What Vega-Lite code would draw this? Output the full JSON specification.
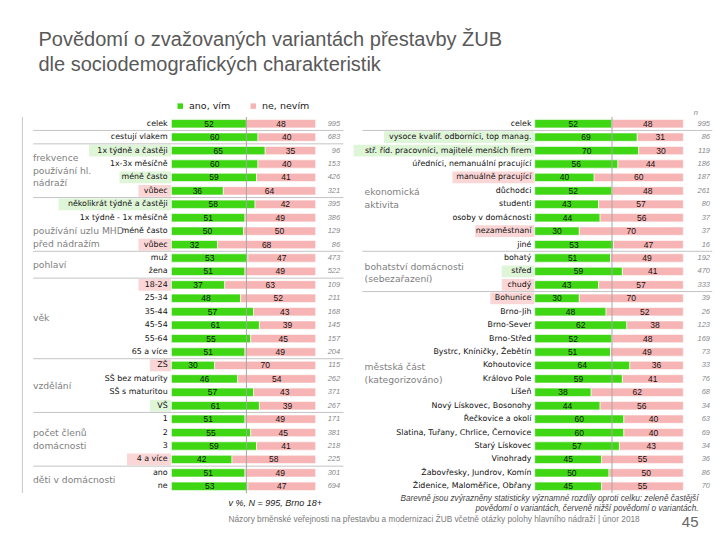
{
  "$schema": "https://vega.github.io/schema/vega-lite/v6.json",
  "padding": {"left": 21.5, "top": 29, "right": 5, "bottom": 5},
  "background": "white",
  "bounds": "flush",
  "spacing": 6,
  "title": {
    "text": ["Povědomí o zvažovaných variantách přestavby ŽUB", "dle sociodemografických charakteristik"],
    "anchor": "start", "frame": "group", "dx": 7, "offset": 26.5,
    "font": "Liberation Sans Narrow, Liberation Sans, Arial, sans-serif",
    "fontSize": 20, "fontWeight": "normal", "color": "#595959", "lineHeight": 25
  },
  "datasets": {
    "left": [
      {"key": "L00", "label": "celek", "ano": 52, "ne": 48, "n": 995, "sig": ""},
      {"key": "L01", "label": "cestují vlakem", "ano": 60, "ne": 40, "n": 683, "sig": ""},
      {"key": "L02", "label": "1x týdně a častěji", "ano": 65, "ne": 35, "n": 96, "sig": "+"},
      {"key": "L03", "label": "1x-3x měsíčně", "ano": 60, "ne": 40, "n": 153, "sig": ""},
      {"key": "L04", "label": "méně často", "ano": 59, "ne": 41, "n": 426, "sig": "+"},
      {"key": "L05", "label": "vůbec", "ano": 36, "ne": 64, "n": 321, "sig": "-"},
      {"key": "L06", "label": "několikrát týdně a častěji", "ano": 58, "ne": 42, "n": 395, "sig": "+"},
      {"key": "L07", "label": "1x týdně - 1x měsíčně", "ano": 51, "ne": 49, "n": 386, "sig": ""},
      {"key": "L08", "label": "méně často", "ano": 50, "ne": 50, "n": 129, "sig": ""},
      {"key": "L09", "label": "vůbec", "ano": 32, "ne": 68, "n": 86, "sig": "-"},
      {"key": "L10", "label": "muž", "ano": 53, "ne": 47, "n": 473, "sig": ""},
      {"key": "L11", "label": "žena", "ano": 51, "ne": 49, "n": 522, "sig": ""},
      {"key": "L12", "label": "18-24", "ano": 37, "ne": 63, "n": 109, "sig": "-"},
      {"key": "L13", "label": "25-34", "ano": 48, "ne": 52, "n": 211, "sig": ""},
      {"key": "L14", "label": "35-44", "ano": 57, "ne": 43, "n": 168, "sig": ""},
      {"key": "L15", "label": "45-54", "ano": 61, "ne": 39, "n": 145, "sig": ""},
      {"key": "L16", "label": "55-64", "ano": 55, "ne": 45, "n": 157, "sig": ""},
      {"key": "L17", "label": "65 a více", "ano": 51, "ne": 49, "n": 204, "sig": ""},
      {"key": "L18", "label": "ZŠ", "ano": 30, "ne": 70, "n": 115, "sig": "-"},
      {"key": "L19", "label": "SŠ bez maturity", "ano": 46, "ne": 54, "n": 262, "sig": ""},
      {"key": "L20", "label": "SŠ s maturitou", "ano": 57, "ne": 43, "n": 371, "sig": ""},
      {"key": "L21", "label": "VŠ", "ano": 61, "ne": 39, "n": 267, "sig": "+"},
      {"key": "L22", "label": "1", "ano": 51, "ne": 49, "n": 171, "sig": ""},
      {"key": "L23", "label": "2", "ano": 55, "ne": 45, "n": 381, "sig": ""},
      {"key": "L24", "label": "3", "ano": 59, "ne": 41, "n": 218, "sig": ""},
      {"key": "L25", "label": "4 a více", "ano": 42, "ne": 58, "n": 225, "sig": "-"},
      {"key": "L26", "label": "ano", "ano": 51, "ne": 49, "n": 301, "sig": ""},
      {"key": "L27", "label": "ne", "ano": 53, "ne": 47, "n": 694, "sig": ""}
    ],
    "right": [
      {"key": "R00", "label": "celek", "ano": 52, "ne": 48, "n": 995, "sig": ""},
      {"key": "R01", "label": "vysoce kvalif. odborníci, top manag.", "ano": 69, "ne": 31, "n": 86, "sig": "+"},
      {"key": "R02", "label": "stř. říd. pracovníci, majitelé menších firem", "ano": 70, "ne": 30, "n": 119, "sig": "+"},
      {"key": "R03", "label": "úředníci, nemanuální pracující", "ano": 56, "ne": 44, "n": 186, "sig": ""},
      {"key": "R04", "label": "manuálně pracující", "ano": 40, "ne": 60, "n": 187, "sig": "-"},
      {"key": "R05", "label": "důchodci", "ano": 52, "ne": 48, "n": 261, "sig": ""},
      {"key": "R06", "label": "studenti", "ano": 43, "ne": 57, "n": 80, "sig": ""},
      {"key": "R07", "label": "osoby v domácnosti", "ano": 44, "ne": 56, "n": 37, "sig": ""},
      {"key": "R08", "label": "nezaměstnaní", "ano": 30, "ne": 70, "n": 37, "sig": "-"},
      {"key": "R09", "label": "jiné", "ano": 53, "ne": 47, "n": 16, "sig": ""},
      {"key": "R10", "label": "bohatý", "ano": 51, "ne": 49, "n": 192, "sig": ""},
      {"key": "R11", "label": "střed", "ano": 59, "ne": 41, "n": 470, "sig": "+"},
      {"key": "R12", "label": "chudý", "ano": 43, "ne": 57, "n": 333, "sig": "-"},
      {"key": "R13", "label": "Bohunice", "ano": 30, "ne": 70, "n": 39, "sig": "-"},
      {"key": "R14", "label": "Brno-Jih", "ano": 48, "ne": 52, "n": 26, "sig": ""},
      {"key": "R15", "label": "Brno-Sever", "ano": 62, "ne": 38, "n": 123, "sig": ""},
      {"key": "R16", "label": "Brno-Střed", "ano": 52, "ne": 48, "n": 169, "sig": ""},
      {"key": "R17", "label": "Bystrc, Kníničky, Žebětín", "ano": 51, "ne": 49, "n": 73, "sig": ""},
      {"key": "R18", "label": "Kohoutovice", "ano": 64, "ne": 36, "n": 33, "sig": ""},
      {"key": "R19", "label": "Královo Pole", "ano": 59, "ne": 41, "n": 76, "sig": ""},
      {"key": "R20", "label": "Líšeň", "ano": 38, "ne": 62, "n": 68, "sig": ""},
      {"key": "R21", "label": "Nový Lískovec, Bosonohy", "ano": 44, "ne": 56, "n": 34, "sig": ""},
      {"key": "R22", "label": "Řečkovice a okolí", "ano": 60, "ne": 40, "n": 63, "sig": ""},
      {"key": "R23", "label": "Slatina, Tuřany, Chrlice, Černovice", "ano": 60, "ne": 40, "n": 69, "sig": ""},
      {"key": "R24", "label": "Starý Lískovec", "ano": 57, "ne": 43, "n": 34, "sig": ""},
      {"key": "R25", "label": "Vinohrady", "ano": 45, "ne": 55, "n": 36, "sig": ""},
      {"key": "R26", "label": "Žabovřesky, Jundrov, Komín", "ano": 50, "ne": 50, "n": 86, "sig": ""},
      {"key": "R27", "label": "Židenice, Maloměřice, Obřany", "ano": 45, "ne": 55, "n": 70, "sig": ""}
    ],
    "leftGroups": [
      {"key": "L03", "g": "frekvence\npoužívání hl.\nnádraží"},
      {"key": "L08", "g": "používání uzlu MHD\npřed nádražím"},
      {"key": "L10", "g": "pohlaví"},
      {"key": "L14", "g": "věk"},
      {"key": "L19", "g": "vzdělání"},
      {"key": "L23", "g": "počet členů\ndomácnosti"},
      {"key": "L26", "g": "děti v domácnosti"}
    ],
    "rightGroups": [
      {"key": "R05", "g": "ekonomická\naktivita"},
      {"key": "R11", "g": "bohatství domácnosti\n(sebezařazení)"},
      {"key": "R18", "g": "městská část\n(kategorizováno)"}
    ],
    "leftSeps": [
      {"key": "L00"}, {"key": "L01"}, {"key": "L05"}, {"key": "L09"},
      {"key": "L11"}, {"key": "L17"}, {"key": "L21"}, {"key": "L25"}
    ],
    "rightSeps": [
      {"key": "R00"}, {"key": "R09"}, {"key": "R12"}
    ]
  },
  "hconcat": [
    {
      "width": 313,
      "height": 376,
      "title": {
        "text": "v %, N = 995, Brno 18+",
        "subtitle": "Názory brněnské veřejnosti na přestavbu a modernizaci ŽUB včetně otázky polohy hlavního nádraží | únor 2018",
        "orient": "bottom", "anchor": "start", "frame": "group", "dx": 197, "offset": 5,
        "font": "Liberation Sans", "fontSize": 9, "fontStyle": "italic", "fontWeight": "normal", "color": "#222",
        "subtitleFont": "Liberation Sans", "subtitleFontSize": 8.3, "subtitleColor": "#7a7a7a", "subtitlePadding": 7
      },
      "layer": [
        {
          "data": {"values": [{"border": "slide"}]},
          "mark": {"type": "rule", "color": "#c8c8c8", "strokeWidth": 1},
          "encoding": {
            "x": {"datum": -103.3, "type": "quantitative", "scale": {"domain": [-97, 120], "nice": false, "zero": false}, "axis": null}
          }
        },
        {
          "data": {"name": "left"},
          "transform": [
            {"filter": "datum.sig == '+'"},
            {"calculate": "-(length(datum.label) * 3.8 + 14) / 1.443", "as": "hx"}
          ],
          "mark": {"type": "bar", "height": {"band": 0.88}, "color": "#dff5d8"},
          "encoding": {
            "y": {"field": "key", "type": "nominal", "sort": "ascending", "axis": null, "scale": {"type": "band", "paddingInner": 0, "paddingOuter": 0}},
            "x": {"field": "hx", "type": "quantitative"},
            "x2": {"datum": -0.3}
          }
        },
        {
          "data": {"name": "left"},
          "transform": [
            {"filter": "datum.sig == '-'"},
            {"calculate": "-(length(datum.label) * 3.8 + 14) / 1.443", "as": "hx"}
          ],
          "mark": {"type": "bar", "height": {"band": 0.88}, "color": "#fbd6d6"},
          "encoding": {
            "y": {"field": "key", "type": "nominal", "sort": "ascending", "axis": null, "scale": {"type": "band", "paddingInner": 0, "paddingOuter": 0}},
            "x": {"field": "hx", "type": "quantitative"},
            "x2": {"datum": -0.3}
          }
        },
        {
          "data": {"name": "leftSeps"},
          "mark": {"type": "rule", "color": "#c4c4c4", "strokeWidth": 1},
          "encoding": {
            "y": {"field": "key", "type": "nominal", "sort": "ascending", "axis": null, "bandPosition": 1, "scale": {"type": "band", "paddingInner": 0, "paddingOuter": 0}},
            "x": {"datum": -95.8, "type": "quantitative"},
            "x2": {"datum": 119.3}
          }
        },
        {
          "data": {"name": "left"},
          "transform": [{"fold": ["ano", "ne"], "as": ["odp", "pct"]}],
          "mark": {"type": "bar", "height": {"band": 0.62}, "stroke": "white", "strokeWidth": 0.6},
          "encoding": {
            "y": {"field": "key", "type": "nominal", "sort": "ascending", "axis": null, "scale": {"type": "band", "paddingInner": 0, "paddingOuter": 0}},
            "x": {"field": "pct", "type": "quantitative", "stack": "zero"},
            "order": {"field": "odp", "sort": "ascending"},
            "color": {
              "field": "odp", "type": "nominal",
              "scale": {"domain": ["ano", "ne"], "range": ["#3fd614", "#f6b4b4"]},
              "legend": {
                "orient": "none", "legendX": 144, "legendY": -16, "direction": "horizontal", "title": null,
                "symbolType": "square", "symbolSize": 30, "symbolStrokeWidth": 0,
                "labelFont": "DejaVu Sans", "labelFontSize": 9.5, "labelColor": "#222", "columnPadding": 18,
                "labelExpr": "datum.label == 'ano' ? 'ano, vím' : 'ne, nevím'"
              }
            }
          }
        },
        {
          "data": {"values": [{"avg": 52}]},
          "mark": {"type": "rule", "color": "#a8a8a8", "strokeWidth": 1},
          "encoding": {"x": {"field": "avg", "type": "quantitative"}}
        },
        {
          "data": {"name": "left"},
          "transform": [
            {"fold": ["ano", "ne"], "as": ["odp", "pct"]},
            {"stack": "pct", "groupby": ["key"], "sort": [{"field": "odp", "order": "ascending"}], "as": ["s0", "s1"]},
            {"calculate": "(datum.s0 + datum.s1) / 2", "as": "mid"}
          ],
          "mark": {"type": "text", "font": "Liberation Sans", "fontSize": 8.5, "color": "#111", "baseline": "middle", "align": "center"},
          "encoding": {
            "y": {"field": "key", "type": "nominal", "sort": "ascending", "axis": null, "scale": {"type": "band", "paddingInner": 0, "paddingOuter": 0}},
            "x": {"field": "mid", "type": "quantitative"},
            "text": {"field": "pct", "type": "quantitative"}
          }
        },
        {
          "data": {"name": "left"},
          "mark": {"type": "text", "font": "DejaVu Sans", "fontSize": 7.9, "color": "#111", "baseline": "middle", "align": "right"},
          "encoding": {
            "y": {"field": "key", "type": "nominal", "sort": "ascending", "axis": null, "scale": {"type": "band", "paddingInner": 0, "paddingOuter": 0}},
            "x": {"datum": -2.6, "type": "quantitative"},
            "text": {"field": "label", "type": "nominal"}
          }
        },
        {
          "data": {"name": "left"},
          "mark": {"type": "text", "font": "Liberation Sans", "fontSize": 7.5, "fontStyle": "italic", "color": "#888", "baseline": "middle", "align": "right"},
          "encoding": {
            "y": {"field": "key", "type": "nominal", "sort": "ascending", "axis": null, "scale": {"type": "band", "paddingInner": 0, "paddingOuter": 0}},
            "x": {"datum": 117, "type": "quantitative"},
            "text": {"field": "n", "type": "quantitative"}
          }
        },
        {
          "data": {"name": "leftGroups"},
          "transform": [{"filter": {"field": "key", "oneOf": ["L10", "L14", "L19", "L26"]}}],
          "mark": {"type": "text", "font": "DejaVu Sans", "fontSize": 9.2, "color": "#808080", "baseline": "middle", "align": "left", "lineBreak": "\n", "lineHeight": 13},
          "encoding": {
            "y": {"field": "key", "type": "nominal", "sort": "ascending", "axis": null, "bandPosition": 1, "scale": {"type": "band", "paddingInner": 0, "paddingOuter": 0}},
            "x": {"datum": -96, "type": "quantitative"},
            "text": {"field": "g", "type": "nominal"}
          }
        },
        {
          "data": {"name": "leftGroups"},
          "transform": [{"filter": {"field": "key", "oneOf": ["L08", "L23"]}}],
          "mark": {"type": "text", "font": "DejaVu Sans", "fontSize": 9.2, "color": "#808080", "baseline": "middle", "align": "left", "lineBreak": "\n", "lineHeight": 13, "dy": -6.5},
          "encoding": {
            "y": {"field": "key", "type": "nominal", "sort": "ascending", "axis": null, "bandPosition": 1, "scale": {"type": "band", "paddingInner": 0, "paddingOuter": 0}},
            "x": {"datum": -96, "type": "quantitative"},
            "text": {"field": "g", "type": "nominal"}
          }
        },
        {
          "data": {"name": "leftGroups"},
          "transform": [{"filter": {"field": "key", "oneOf": ["L03"]}}],
          "mark": {"type": "text", "font": "DejaVu Sans", "fontSize": 9.2, "color": "#808080", "baseline": "middle", "align": "left", "lineBreak": "\n", "lineHeight": 12.5, "dy": -12.5},
          "encoding": {
            "y": {"field": "key", "type": "nominal", "sort": "ascending", "axis": null, "bandPosition": 1, "scale": {"type": "band", "paddingInner": 0, "paddingOuter": 0}},
            "x": {"datum": -96, "type": "quantitative"},
            "text": {"field": "g", "type": "nominal"}
          }
        }
      ]
    },
    {
      "width": 364,
      "height": 376,
      "title": {
        "text": ["Barevně jsou zvýrazněny statisticky významné rozdíly oproti celku: zeleně častější", "povědomí o variantách, červeně nižší povědomí o variantách."],
        "subtitle": "45",
        "orient": "bottom", "anchor": "end", "frame": "group", "dx": -16, "offset": 1,
        "font": "Liberation Sans", "fontSize": 8.2, "fontStyle": "italic", "fontWeight": "normal", "color": "#444", "lineHeight": 10,
        "subtitleFont": "Liberation Sans", "subtitleFontSize": 15, "subtitleColor": "#666", "subtitlePadding": 2
      },
      "layer": [
        {
          "data": {"name": "right"},
          "transform": [
            {"filter": "datum.sig == '+'"},
            {"calculate": "-(length(datum.label) * 3.8 + 14) / 1.487", "as": "hx"}
          ],
          "mark": {"type": "bar", "height": {"band": 0.88}, "color": "#dff5d8"},
          "encoding": {
            "y": {"field": "key", "type": "nominal", "sort": "ascending", "axis": null, "scale": {"type": "band", "paddingInner": 0, "paddingOuter": 0}},
            "x": {"field": "hx", "type": "quantitative", "scale": {"domain": [-124, 121], "nice": false, "zero": false}, "axis": null},
            "x2": {"datum": -0.3}
          }
        },
        {
          "data": {"name": "right"},
          "transform": [
            {"filter": "datum.sig == '-'"},
            {"calculate": "-(length(datum.label) * 3.8 + 14) / 1.487", "as": "hx"}
          ],
          "mark": {"type": "bar", "height": {"band": 0.88}, "color": "#fbd6d6"},
          "encoding": {
            "y": {"field": "key", "type": "nominal", "sort": "ascending", "axis": null, "scale": {"type": "band", "paddingInner": 0, "paddingOuter": 0}},
            "x": {"field": "hx", "type": "quantitative"},
            "x2": {"datum": -0.3}
          }
        },
        {
          "data": {"name": "rightSeps"},
          "mark": {"type": "rule", "color": "#c4c4c4", "strokeWidth": 1},
          "encoding": {
            "y": {"field": "key", "type": "nominal", "sort": "ascending", "axis": null, "bandPosition": 1, "scale": {"type": "band", "paddingInner": 0, "paddingOuter": 0}},
            "x": {"datum": -116, "type": "quantitative"},
            "x2": {"datum": 119.5}
          }
        },
        {
          "data": {"name": "right"},
          "transform": [{"fold": ["ano", "ne"], "as": ["odp", "pct"]}],
          "mark": {"type": "bar", "height": {"band": 0.62}, "stroke": "white", "strokeWidth": 0.6},
          "encoding": {
            "y": {"field": "key", "type": "nominal", "sort": "ascending", "axis": null, "scale": {"type": "band", "paddingInner": 0, "paddingOuter": 0}},
            "x": {"field": "pct", "type": "quantitative", "stack": "zero"},
            "order": {"field": "odp", "sort": "ascending"},
            "color": {
              "field": "odp", "type": "nominal",
              "scale": {"domain": ["ano", "ne"], "range": ["#3fd614", "#f6b4b4"]},
              "legend": {
                "orient": "none", "legendX": 144, "legendY": -16, "direction": "horizontal", "title": null,
                "symbolType": "square", "symbolSize": 30, "symbolStrokeWidth": 0,
                "labelFont": "DejaVu Sans", "labelFontSize": 9.5, "labelColor": "#222", "columnPadding": 18,
                "labelExpr": "datum.label == 'ano' ? 'ano, vím' : 'ne, nevím'"
              }
            }
          }
        },
        {
          "data": {"values": [{"avg": 52}]},
          "mark": {"type": "rule", "color": "#a8a8a8", "strokeWidth": 1},
          "encoding": {"x": {"field": "avg", "type": "quantitative"}}
        },
        {
          "data": {"name": "right"},
          "transform": [
            {"fold": ["ano", "ne"], "as": ["odp", "pct"]},
            {"stack": "pct", "groupby": ["key"], "sort": [{"field": "odp", "order": "ascending"}], "as": ["s0", "s1"]},
            {"calculate": "(datum.s0 + datum.s1) / 2", "as": "mid"}
          ],
          "mark": {"type": "text", "font": "Liberation Sans", "fontSize": 8.5, "color": "#111", "baseline": "middle", "align": "center"},
          "encoding": {
            "y": {"field": "key", "type": "nominal", "sort": "ascending", "axis": null, "scale": {"type": "band", "paddingInner": 0, "paddingOuter": 0}},
            "x": {"field": "mid", "type": "quantitative"},
            "text": {"field": "pct", "type": "quantitative"}
          }
        },
        {
          "data": {"name": "right"},
          "mark": {"type": "text", "font": "DejaVu Sans", "fontSize": 7.9, "color": "#111", "baseline": "middle", "align": "right"},
          "encoding": {
            "y": {"field": "key", "type": "nominal", "sort": "ascending", "axis": null, "scale": {"type": "band", "paddingInner": 0, "paddingOuter": 0}},
            "x": {"datum": -2.2, "type": "quantitative"},
            "text": {"field": "label", "type": "nominal"}
          }
        },
        {
          "data": {"name": "right"},
          "mark": {"type": "text", "font": "Liberation Sans", "fontSize": 7.5, "fontStyle": "italic", "color": "#888", "baseline": "middle", "align": "right"},
          "encoding": {
            "y": {"field": "key", "type": "nominal", "sort": "ascending", "axis": null, "scale": {"type": "band", "paddingInner": 0, "paddingOuter": 0}},
            "x": {"datum": 118, "type": "quantitative"},
            "text": {"field": "n", "type": "quantitative"}
          }
        },
        {
          "data": {"values": [{"key": "R00", "t": "n"}]},
          "mark": {"type": "text", "font": "Liberation Sans", "fontSize": 7.5, "fontStyle": "italic", "color": "#888", "baseline": "middle", "align": "center", "dy": -11},
          "encoding": {
            "y": {"field": "key", "type": "nominal", "sort": "ascending", "axis": null, "scale": {"type": "band", "paddingInner": 0, "paddingOuter": 0}},
            "x": {"datum": 108.5, "type": "quantitative"},
            "text": {"field": "t", "type": "nominal"}
          }
        },
        {
          "data": {"name": "rightGroups"},
          "transform": [{"filter": {"field": "key", "oneOf": ["R05", "R18"]}}],
          "mark": {"type": "text", "font": "DejaVu Sans", "fontSize": 9.2, "color": "#808080", "baseline": "middle", "align": "left", "lineBreak": "\n", "lineHeight": 13, "dy": -5.5},
          "encoding": {
            "y": {"field": "key", "type": "nominal", "sort": "ascending", "axis": null, "bandPosition": 1, "scale": {"type": "band", "paddingInner": 0, "paddingOuter": 0}},
            "x": {"datum": -114.5, "type": "quantitative"},
            "text": {"field": "g", "type": "nominal"}
          }
        },
        {
          "data": {"name": "rightGroups"},
          "transform": [{"filter": {"field": "key", "oneOf": ["R11"]}}],
          "mark": {"type": "text", "font": "DejaVu Sans", "fontSize": 9.2, "color": "#808080", "baseline": "middle", "align": "left", "lineBreak": "\n", "lineHeight": 12, "dy": -4.5},
          "encoding": {
            "y": {"field": "key", "type": "nominal", "sort": "ascending", "axis": null, "bandPosition": 0.5, "scale": {"type": "band", "paddingInner": 0, "paddingOuter": 0}},
            "x": {"datum": -114.5, "type": "quantitative"},
            "text": {"field": "g", "type": "nominal"}
          }
        }
      ]
    }
  ],
  "config": {
    "view": {"stroke": null},
    "font": "Liberation Sans"
  }
}
